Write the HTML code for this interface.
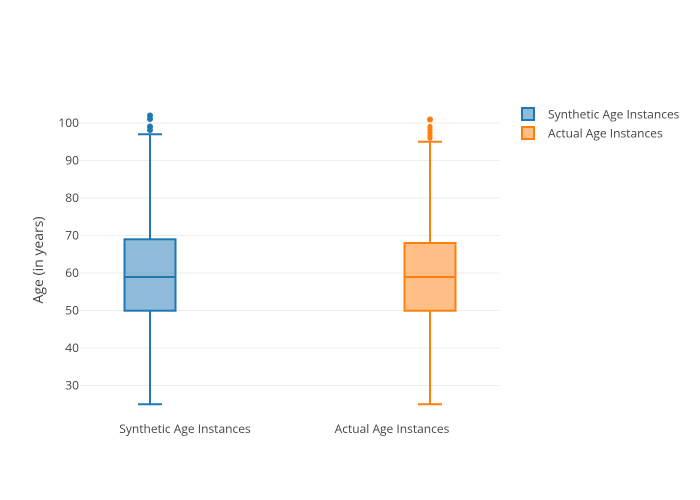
<!DOCTYPE html>
<html><head><meta charset="utf-8"><style>
html,body{margin:0;padding:0;background:#fff;}
svg{display:block;font-family:"Open Sans","Liberation Sans",sans-serif;}
</style></head><body>
<svg width="700" height="500" viewBox="0 0 700 500" xmlns="http://www.w3.org/2000/svg">
<rect width="700" height="500" fill="#fff"/>
<g stroke="#eeeeee" stroke-width="1">
<line x1="80" x2="500" y1="123" y2="123"/>
<line x1="80" x2="500" y1="160.5" y2="160.5"/>
<line x1="80" x2="500" y1="198" y2="198"/>
<line x1="80" x2="500" y1="235.5" y2="235.5"/>
<line x1="80" x2="500" y1="273" y2="273"/>
<line x1="80" x2="500" y1="310.5" y2="310.5"/>
<line x1="80" x2="500" y1="348" y2="348"/>
<line x1="80" x2="500" y1="385.5" y2="385.5"/>
</g>
<g font-size="12" fill="#444" text-anchor="end">
<text x="79" y="127">100</text>
<text x="79" y="164.5">90</text>
<text x="79" y="202">80</text>
<text x="79" y="239.5">70</text>
<text x="79" y="277">60</text>
<text x="79" y="314.5">50</text>
<text x="79" y="352">40</text>
<text x="79" y="389.5">30</text>
</g>
<text transform="translate(43,260) rotate(-90)" text-anchor="middle" font-size="14" fill="#444">Age (in years)</text>
<!-- box 1 -->
<g stroke="#1f77b4" stroke-width="2" fill="none">
<line x1="150" x2="150" y1="134.25" y2="239.3"/>
<line x1="150" x2="150" y1="310.7" y2="404.25"/>
<line x1="138" x2="162" y1="134.25" y2="134.25"/>
<line x1="138" x2="162" y1="404.25" y2="404.25"/>
<rect x="124.5" y="239.3" width="51" height="71.4" fill="rgba(31,119,180,0.5)"/>
<line x1="124.5" x2="175.5" y1="277" y2="277"/>
</g>
<g fill="#1f77b4">
<circle cx="150" cy="115.5" r="3"/><circle cx="150" cy="119" r="3"/>
<circle cx="150" cy="126.5" r="3"/><circle cx="150" cy="130" r="3"/>
</g>
<!-- box 2 -->
<g stroke="#ff7f0e" stroke-width="2" fill="none">
<line x1="430" x2="430" y1="141.75" y2="243"/>
<line x1="430" x2="430" y1="310.7" y2="404.25"/>
<line x1="418" x2="442" y1="141.75" y2="141.75"/>
<line x1="418" x2="442" y1="404.25" y2="404.25"/>
<rect x="404.5" y="243" width="51" height="67.7" fill="rgba(255,127,14,0.5)"/>
<line x1="404.5" x2="455.5" y1="277" y2="277"/>
</g>
<g fill="#ff7f0e">
<circle cx="430" cy="119.5" r="3"/>
<circle cx="430" cy="126.5" r="2.6"/><circle cx="430" cy="129.5" r="2.6"/>
<circle cx="430" cy="132.5" r="2.6"/><circle cx="430" cy="135.5" r="2.6"/><circle cx="430" cy="138" r="2.6"/>
</g>
<g font-size="12" fill="#444" text-anchor="middle">
<text x="185" y="433">Synthetic Age Instances</text>
<text x="392" y="433">Actual Age Instances</text>
</g>
<!-- legend -->
<rect x="522" y="108" width="12" height="12" fill="rgba(31,119,180,0.5)" stroke="#1f77b4" stroke-width="2"/>
<rect x="522" y="127" width="12" height="12" fill="rgba(255,127,14,0.5)" stroke="#ff7f0e" stroke-width="2"/>
<g font-size="12" fill="#444">
<text x="548" y="118.5">Synthetic Age Instances</text>
<text x="548" y="137.5">Actual Age Instances</text>
</g>
</svg>
</body></html>
